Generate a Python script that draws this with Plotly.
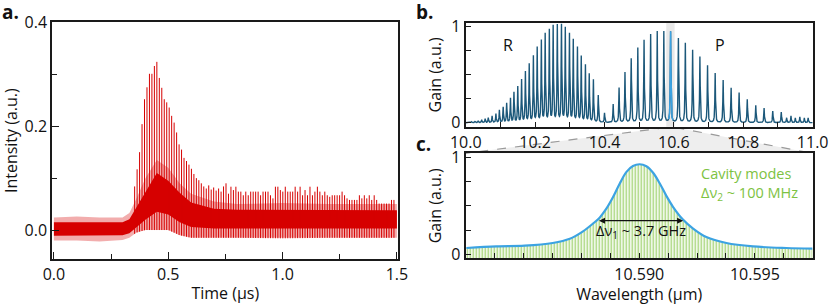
import numpy as np
import plotly.graph_objects as go

W, H = 831, 305

# ---------------- Panel a data ----------------
band_t = [0.0, 0.1, 0.2, 0.3, 0.33, 0.36, 0.40, 0.45, 0.50, 0.55, 0.60, 0.70, 0.80, 1.0, 1.2, 1.4, 1.5]
outer_hi = [0.024, 0.026, 0.024, 0.024, 0.033, 0.06, 0.10, 0.135, 0.12, 0.09, 0.07, 0.055, 0.05, 0.052, 0.05, 0.05, 0.05]
outer_lo = [-0.02, -0.02, -0.022, -0.019, -0.015, -0.005, 0.0, 0.0, 0.0, -0.01, -0.015, -0.015, -0.015, -0.016, -0.015, -0.015, -0.015]
core_hi = [0.015, 0.015, 0.015, 0.015, 0.021, 0.043, 0.072, 0.11, 0.095, 0.072, 0.053, 0.041, 0.039, 0.039, 0.039, 0.038, 0.038]
core_lo = [-0.011, -0.011, -0.011, -0.01, -0.006, 0.005, 0.02, 0.035, 0.03, 0.015, 0.006, 0.003, 0.003, 0.003, 0.003, 0.003, 0.003]

spike_first_t = 0.353
spike_last_t = 1.487
spike_top = [
    0.084, 0.117, 0.150, 0.204, 0.252, 0.275, 0.301, 0.301, 0.316, 0.324,
    0.293, 0.274, 0.252, 0.246, 0.236, 0.220, 0.207, 0.188, 0.165, 0.155,
    0.139, 0.133, 0.126, 0.118, 0.108, 0.100, 0.096, 0.090, 0.084, 0.080,
    0.086, 0.078, 0.082, 0.076, 0.080, 0.074, 0.084, 0.090, 0.070, 0.0835,
    0.077, 0.0835, 0.074, 0.074, 0.067, 0.074, 0.067, 0.074, 0.074, 0.074,
    0.074, 0.067, 0.074, 0.074, 0.074, 0.067, 0.061, 0.0835, 0.0835, 0.077,
    0.074, 0.0835, 0.074, 0.074, 0.074, 0.0835, 0.074, 0.0835, 0.067, 0.077,
    0.067, 0.0835, 0.067, 0.074, 0.0835, 0.074, 0.067, 0.074, 0.067, 0.064,
    0.067, 0.067, 0.067, 0.067, 0.074, 0.067, 0.061, 0.058, 0.058, 0.058,
    0.058, 0.067, 0.061, 0.067, 0.061, 0.067, 0.058, 0.067, 0.058, 0.051,
    0.051, 0.051, 0.051, 0.051, 0.058, 0.058,
]

# ---------------- Panel b data ----------------
R_center = [10.017, 10.027, 10.036, 10.046, 10.056, 10.065, 10.076, 10.087, 10.097, 10.108,
            10.118, 10.129, 10.139, 10.150, 10.161, 10.172, 10.183, 10.195, 10.206, 10.218,
            10.229, 10.241, 10.252, 10.264, 10.276, 10.287, 10.299, 10.310, 10.322, 10.333,
            10.345, 10.356, 10.368, 10.382, 10.400]
R_height = [0.01, 0.015, 0.02, 0.03, 0.04, 0.05, 0.07, 0.09, 0.13, 0.16,
            0.20, 0.25, 0.31, 0.37, 0.44, 0.52, 0.60, 0.68, 0.77, 0.84,
            0.91, 0.95, 0.99, 1.00, 1.00, 0.97, 0.91, 0.85, 0.77, 0.68,
            0.59, 0.50, 0.44, 0.28, 0.10]
P_center = [10.425, 10.442, 10.459, 10.477, 10.496, 10.514, 10.533, 10.552, 10.571, 10.5905,
            10.613, 10.633, 10.654, 10.675, 10.697, 10.719, 10.742, 10.765, 10.788, 10.8115,
            10.836, 10.860, 10.885, 10.9095, 10.925, 10.9375, 10.950, 10.963, 10.976, 10.987]
P_height = [0.19, 0.36, 0.52, 0.66, 0.77, 0.85, 0.91, 0.94, 0.94, 0.94,
            0.87, 0.82, 0.75, 0.68, 0.59, 0.51, 0.44, 0.36, 0.31, 0.24,
            0.18, 0.15, 0.12, 0.11, 0.05, 0.07, 0.05, 0.06, 0.05, 0.05]
line_hwhm = 0.001
highlight_range = [10.585, 10.597]
strip_range = [10.578, 10.602]

# ---------------- Panel c data ----------------
c_wl = [10.58253, 10.58383, 10.58505, 10.58626, 10.58700, 10.58757, 10.58800, 10.58829,
        10.58858, 10.58887, 10.58916, 10.58945, 10.58973, 10.59002, 10.59031, 10.59060,
        10.59089, 10.59118, 10.59146, 10.59189, 10.59233, 10.59290, 10.59377, 10.59492,
        10.59636, 10.59749]
c_gain = [0.065, 0.082, 0.089, 0.117, 0.160, 0.237, 0.316, 0.378,
          0.470, 0.590, 0.730, 0.850, 0.910, 0.928, 0.907, 0.840,
          0.730, 0.600, 0.490, 0.358, 0.265, 0.178, 0.117, 0.082,
          0.065, 0.059]
fwhm_left, fwhm_right, fwhm_level = 10.5882, 10.5919, 0.347

# ---------------- styling ----------------
RED = "rgb(214,0,0)"
DARKBLUE = "rgb(28,88,122)"
LIGHTBLUE = "rgb(60,163,226)"
GREEN_LINE = "rgb(160,210,110)"
GREEN_TEXT = "rgb(125,194,66)"
FONT = "Open Sans"
FS = 16


def px(x):
    return x / W


def py(y):
    return 1 - y / H


fig = go.Figure()

# ----- panel a -----
fig.add_trace(go.Scatter(x=band_t, y=outer_lo, mode="lines", line=dict(width=0),
                         hoverinfo="skip", showlegend=False, xaxis="x", yaxis="y"))
fig.add_trace(go.Scatter(x=band_t, y=outer_hi, mode="lines", line=dict(width=0),
                         fill="tonexty", fillcolor="rgba(214,0,0,0.32)",
                         hoverinfo="skip", showlegend=False, xaxis="x", yaxis="y"))
fig.add_trace(go.Scatter(x=band_t, y=core_lo, mode="lines", line=dict(width=0),
                         hoverinfo="skip", showlegend=False, xaxis="x", yaxis="y"))
fig.add_trace(go.Scatter(x=band_t, y=core_hi, mode="lines", line=dict(width=0),
                         fill="tonexty", fillcolor=RED,
                         hoverinfo="skip", showlegend=False, xaxis="x", yaxis="y"))

spike_t = np.linspace(spike_first_t, spike_last_t, len(spike_top))
sx, sy = [], []
for t, top in zip(spike_t, spike_top):
    lo = float(np.interp(t, band_t, outer_lo))
    sx += [t, t, None]
    sy += [lo, top, None]
fig.add_trace(go.Scatter(x=sx, y=sy, mode="lines", line=dict(color=RED, width=1),
                         hoverinfo="skip", showlegend=False, xaxis="x", yaxis="y"))

# ----- panel b -----
wl = np.linspace(10.0, 11.0, 10001)
centers = np.array(R_center + P_center)
heights = np.array(R_height + P_height)
gain = (heights[None, :] * line_hwhm**2 / ((wl[:, None] - centers[None, :])**2 + line_hwhm**2)).sum(axis=1)
fig.add_trace(go.Scatter(x=wl, y=gain, mode="lines", line=dict(color=DARKBLUE, width=1.4),
                         showlegend=False, xaxis="x2", yaxis="y2"))
m = (wl >= highlight_range[0]) & (wl <= highlight_range[1])
fig.add_trace(go.Scatter(x=wl[m], y=gain[m], mode="lines", line=dict(color=LIGHTBLUE, width=1.4),
                         showlegend=False, xaxis="x2", yaxis="y2"))

# ----- panel c -----
c_ymin = -0.041
fig.add_trace(go.Scatter(x=c_wl, y=[c_ymin] * len(c_wl), mode="lines", line=dict(width=0),
                         hoverinfo="skip", showlegend=False, xaxis="x3", yaxis="y3"))
fig.add_trace(go.Scatter(x=c_wl, y=c_gain, mode="lines", line=dict(color=LIGHTBLUE, width=2.2, shape="spline"),
                         fill="tonexty", fillcolor="rgba(255,255,255,0)",
                         fillpattern=dict(shape="|", size=3, solidity=0.45, fgcolor=GREEN_LINE,
                                          bgcolor="white", fillmode="replace"),
                         showlegend=False, xaxis="x3", yaxis="y3"))

axis_common = dict(showline=True, linecolor="#1a1a1a", linewidth=2, mirror=True,
                   ticks="inside", tickcolor="#1a1a1a", tickwidth=1.3, showgrid=False,
                   zeroline=False, automargin=False, ticklabeloverflow="allow",
                   tickfont=dict(family=FONT, size=FS, color="#111"))

xa = [52.3, 398.3]
xb = [465.7, 812.7]

fig.update_layout(
    width=W, height=H, margin=dict(l=0, r=0, t=0, b=0),
    paper_bgcolor="white", plot_bgcolor="rgba(0,0,0,0)",
    font=dict(family=FONT, size=FS, color="#111"),
    xaxis=dict(axis_common, domain=[px(xa[0]), px(xa[1])], anchor="y",
               range=[-0.007, 1.506], tick0=0, dtick=0.5, tickformat=".1f", ticklen=7,
               minor=dict(dtick=0.25, tick0=0, ticklen=5, ticks="inside", tickcolor="#1a1a1a"),
               title=dict(text="Time (μs)", standoff=4, font=dict(family=FONT, size=FS))),
    yaxis=dict(axis_common, domain=[py(259), py(22.3)], anchor="x",
               range=[-0.0558, 0.4002], tick0=0, dtick=0.2, tickformat=".1f", ticklen=7,
               minor=dict(dtick=0.1, tick0=0, ticklen=5, ticks="inside", tickcolor="#1a1a1a"),
               title=dict(text="Intensity (a.u.)", standoff=11, font=dict(family=FONT, size=FS))),
    xaxis2=dict(axis_common, domain=[px(xb[0]), px(xb[1])], anchor="y2",
                range=[9.9999, 11.0001], tick0=10, dtick=0.2, tickformat=".1f", ticklen=5,
                minor=dict(dtick=0.1, tick0=10, ticklen=5, ticks="inside", tickcolor="#1a1a1a")),
    yaxis2=dict(axis_common, domain=[py(126.7), py(23)], anchor="x2",
                range=[-0.041, 1.031], tickvals=[0, 1], ticklen=5,
                minor=dict(dtick=0.25, tick0=0, ticklen=5, ticks="inside", tickcolor="#1a1a1a"),
                title=dict(text="Gain (a.u.)", standoff=6, font=dict(family=FONT, size=FS))),
    xaxis3=dict(axis_common, domain=[px(xb[0]), px(xb[1])], anchor="y3",
                range=[10.5825, 10.5975], tickvals=[10.590, 10.595], tickformat=".3f", ticklen=5,
                minor=dict(dtick=0.00125, tick0=10.590, ticklen=5, ticks="inside", tickcolor="#1a1a1a"),
                title=dict(text="Wavelength (μm)", standoff=4, font=dict(family=FONT, size=FS))),
    yaxis3=dict(axis_common, domain=[py(258.3), py(153.3)], anchor="x3",
                range=[-0.041, 1.041], tickvals=[0, 1], ticklen=5,
                minor=dict(dtick=0.25, tick0=0, ticklen=5, ticks="inside", tickcolor="#1a1a1a"),
                title=dict(text="Gain (a.u.)", standoff=6, font=dict(family=FONT, size=FS))),
)

# gray highlight strip in b and the zoom trapezoid
fig.add_shape(type="rect", xref="x2", yref="y2 domain", x0=strip_range[0], x1=strip_range[1],
              y0=0, y1=1, fillcolor="#e8e8e8", line=dict(width=0), layer="below")
tl, tr = 666.7, 675.3
ytop, ybot = 127.5, 153.3
path = (f"M {px(tl)},{py(ytop)} L {px(tr)},{py(ytop)} L {px(xb[1])},{py(ybot)} "
        f"L {px(xb[0])},{py(ybot)} Z")
fig.add_shape(type="path", xref="paper", yref="paper", path=path,
              fillcolor="#eeeeee", line=dict(width=0), layer="below")
for x0, x1 in [(tl, xb[0]), (tr, xb[1])]:
    fig.add_shape(type="line", xref="paper", yref="paper", x0=px(x0), y0=py(ytop),
                  x1=px(x1), y1=py(ybot), line=dict(color="#9a9a9a", width=1.2, dash="dash"),
                  layer="below")

# panel labels
for txt, x, y in [("a.", 0, 12), ("b.", 414, 12), ("c.", 414, 144)]:
    fig.add_annotation(text=f"<b>{txt}</b>", xref="paper", yref="paper", x=px(x), y=py(y),
                       xanchor="left", yanchor="middle", showarrow=False,
                       font=dict(family=FONT, size=19, color="#111"))

# R / P labels
fig.add_annotation(text="R", xref="x2", yref="y2", x=10.122, y=0.80, showarrow=False,
                   font=dict(family=FONT, size=FS, color="#111"))
fig.add_annotation(text="P", xref="x2", yref="y2", x=10.733, y=0.80, showarrow=False,
                   font=dict(family=FONT, size=FS, color="#111"))

# cavity modes text
fig.add_annotation(text="Cavity modes<br>Δν<sub>2</sub> ~ 100 MHz", xref="paper", yref="paper",
                   x=px(699), y=py(162), xanchor="left", yanchor="top", align="left",
                   showarrow=False, font=dict(family=FONT, size=14.5, color=GREEN_TEXT))

# FWHM arrow and label
fig.add_annotation(x=fwhm_right, y=fwhm_level, ax=fwhm_left, ay=fwhm_level,
                   xref="x3", yref="y3", axref="x3", ayref="y3", text="",
                   showarrow=True, arrowhead=2, arrowside="end+start", arrowsize=1,
                   arrowwidth=1.2, arrowcolor="#111")
fig.add_annotation(text="Δν<sub>1</sub> ~ 3.7 GHz", xref="paper", yref="paper",
                   x=px(641), y=py(231), xanchor="center", yanchor="middle", showarrow=False,
                   font=dict(family=FONT, size=14.5, color="#111"))

fig.write_html("out.html", config={"displayModeBar": False},
               post_script="document.body.style.margin='0';")
